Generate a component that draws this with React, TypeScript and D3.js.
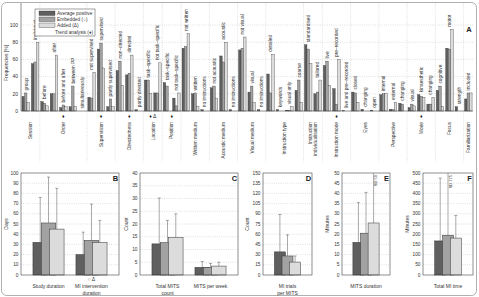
import React from "react";
import * as d3 from "d3";

// Panel A: frequencies per category, grouped by study feature
const groupNames = [
  "Session", "Order", "Supervision", "Directedness", "Location", "Position",
  "Written medium", "Acoustic medium", "Visual medium", "Instruction type",
  "Instruction\nindividualisation", "Instruction mode", "Eyes", "Perspective",
  "Mode", "Focus", "Familiarization",
];
const groupSizes = [2, 5, 3, 3, 2, 2, 3, 3, 3, 4, 2, 3, 3, 3, 3, 3, 1];
const groupMarks = ["", "♦", "♦", "♦", "♦ Δ", "♦", "", "", "", "", "", "♦", "", "", "♦", "", ""];

const categories = [
  "group", "individual",
  "before", "after", "before and after", "between PP", "simultaneously",
  "not supervised", "supervised", "partly supervised",
  "non\u2013directed", "directed", "partly directed",
  "task\u2013specific", "not task\u2013specific",
  "task\u2013specific", "not task\u2013specific",
  "not written", "written", "no instructions",
  "not acoustic", "acoustic", "no instructions",
  "not visual", "visual", "no instructions",
  "detailed", "keywords", "visual only", "coarse",
  "standardised", "tailored",
  "live", "pre\u2013recorded", "live and pre\u2013recorded",
  "closed", "changing", "open",
  "internal", "external", "changing",
  "visual", "kinaesthetic", "changing",
  "cognitive", "motor", "strength",
  "included",
];
const averagePositive = [
  17, 55,
  11, 20, 4, 5, 0,
  16, 72, 5,
  47, 42, 1.5,
  36, 21,
  33, 15,
  73, 20, 1.5,
  27, 64, 1.5,
  71, 22, 1.5,
  43, 1.5, 1, 24,
  77, 20,
  53, 26, 0.5,
  22, 2, 1,
  19, 2, 9,
  4, 19, 8,
  24, 73, 5,
  14,
];
const embedded = [
  21, 57,
  9, 20, 7, 29, 0,
  15, 79, 14,
  58, 44, 0,
  36, 21,
  29, 6,
  75, 21, 0,
  29, 57, 0,
  73, 29, 0,
  21, 0, 1, 36,
  72, 22,
  58, 8, 0,
  21, 0, 0,
  20, 2, 8,
  8, 17, 8,
  29, 72, 0,
  21,
];
const added = [
  10, 80,
  6, 65, 5, 5, 0,
  45, 50, 5,
  30, 65, 0,
  20, 56,
  0, 21,
  90, 5, 0,
  15, 80, 0,
  86, 10, 0,
  66, 0, 5, 10,
  55, 36,
  30, 60, 0,
  10, 0, 0,
  20, 10, 0,
  6, 16, 16,
  5, 95, 0,
  21,
];
const frequencyTicks = [0, 20, 40, 60, 80, 100];

const seriesNames = ["Average positive", "Embedded (\u25cb)", "Added (\u0394)"];
const seriesColors = ["#5f5f5f", "#a2a2a2", "#dcdcdc"];

// Panels B-F: means and standard deviations
const durationLabels = ["Study duration", "MI intervention\nduration"];
const durationMarks = ["", "\u25cb \u0394"];
const durationMeans = [[32, 51, 45], [20, 34, 32]];
const durationSds = [[44, 45, 40], [22, 35.5, 21.5]];

const mitsLabels = ["Total MITS\ncount", "MITS per week"];
const mitsMeans = [[12.2, 12.7, 14.7], [3.0, 3.0, 3.5]];
const mitsSds = [[18, 8.7, 9.3], [2.3, 1.5, 1.5]];

const trialLabels = ["MI trials\nper MITS"];
const trialMeans = [[34, 28, 19]];
const trialSds = [[55, 31, 9]];

const mitsDurationLabels = ["MITS duration"];
const mitsDurationMeans = [[16, 20.5, 25.5]];
const mitsDurationSds = [[19.5, 20, 59]];

const miTimeLabels = ["Total MI time"];
const miTimeMeans = [[167, 195, 181]];
const miTimeSds = [[308, 775, 111]];

const W = 479;
const H = 297;
const FONT = "'Liberation Sans', Arial, Helvetica, sans-serif";
const TEXT = "#333";
const GRID = "#b5b5b5";

const aLeft = 21, aRight = 473, aTop = 3, aBottom = 111;
const pTop = 173, pBottom = 275;

type PanelProps = {
  letter: string; x0: number; x1: number; yMax: number; step: number;
  yLabel: string; yLabelX: number; labels: string[]; marks?: string[];
  means: number[][]; sds: number[][]; barW: number; barStep: number;
};

function StatPanel(p: PanelProps) {
  const y = d3.scaleLinear().domain([0, p.yMax]).range([pBottom, pTop]);
  const x = d3.scalePoint<string>().domain(p.labels).range([p.x0, p.x1])
    .padding(p.labels.length === 1 ? 0.5 : 0.64);
  const ticks = d3.range(0, p.yMax + p.step / 2, p.step);
  return (
    <g>
      {ticks.map((t) => (
        <g key={t}>
          {t > 0 && t < p.yMax && (
            <line x1={p.x0} x2={p.x1} y1={y(t)} y2={y(t)} stroke={GRID}
              strokeWidth={0.5} strokeDasharray="0.8,1.4" />
          )}
          <text x={p.x0 - 2.5} y={y(t)} dy="0.35em" textAnchor="end" fontSize={4.8} fill={TEXT}>{t}</text>
        </g>
      ))}
      <text transform={`translate(${p.yLabelX},${(pTop + pBottom) / 2}) rotate(-90)`}
        textAnchor="middle" fontSize={5} fill={TEXT}>{p.yLabel}</text>
      {p.labels.map((lab, gi) => {
        const c = x(lab) as number;
        return (
          <g key={lab}>
            {p.means[gi].map((m, s) => {
              const bc = c + (s - 1) * p.barStep;
              const top = m + p.sds[gi][s];
              const clipped = top > p.yMax;
              const ey = clipped ? pTop : y(top);
              return (
                <g key={s}>
                  <rect x={bc - p.barW / 2} y={y(m)} width={p.barW} height={pBottom - y(m)}
                    fill={seriesColors[s]} stroke="#333" strokeWidth={0.5} />
                  <line x1={bc} x2={bc} y1={y(m)} y2={ey} stroke="#555" strokeWidth={0.5} />
                  {!clipped && (
                    <line x1={bc - 1.5} x2={bc + 1.5} y1={ey} y2={ey} stroke="#555" strokeWidth={0.5} />
                  )}
                  {clipped && (
                    <text transform={`translate(${bc + 3.8},${pTop + 2}) rotate(-90)`} textAnchor="end"
                      fontSize={4} fill={TEXT}>{`SD ${p.sds[gi][s]}`}</text>
                  )}
                </g>
              );
            })}
            {p.marks && p.marks[gi] && (
              <text x={c} y={281} textAnchor="middle" fontSize={5} fill={TEXT}>{p.marks[gi]}</text>
            )}
            {lab.split("\n").map((line, li) => (
              <text key={li} x={c} y={288 + li * 7} textAnchor="middle" fontSize={5} fill={TEXT}>{line}</text>
            ))}
          </g>
        );
      })}
      <rect x={p.x0} y={pTop} width={p.x1 - p.x0} height={pBottom - pTop} fill="none" stroke="#444" strokeWidth={0.6} />
      <text x={p.x1 - 3.5} y={180.5} textAnchor="middle" fontSize={7.5} fontWeight="bold" fill="#222">{p.letter}</text>
    </g>
  );
}

export default function App() {
  const n = categories.length;
  const x = d3.scaleBand<number>().domain(d3.range(n)).range([aLeft, aRight])
    .paddingInner(0.2).paddingOuter(0.1);
  const inner = d3.scaleBand<number>().domain([0, 1, 2]).range([0, x.bandwidth()]);
  const yA = d3.scaleLinear().domain([0, 100]).range([aBottom, 25]);
  const series = [averagePositive, embedded, added];

  const gap = (x.step() - x.bandwidth()) / 2;
  const boundary = (k: number) => (k <= 0 ? aLeft : k >= n ? aRight : (x(k) as number) - gap);
  const starts = [0, ...Array.from(d3.cumsum(groupSizes))];

  const panels: PanelProps[] = [
    { letter: "B", x0: 21, x1: 119, yMax: 100, step: 10, yLabel: "Days", yLabelX: 8,
      labels: durationLabels, marks: durationMarks, means: durationMeans, sds: durationSds, barW: 14.5, barStep: 8.3 },
    { letter: "C", x0: 140, x1: 238, yMax: 40, step: 5, yLabel: "Count", yLabelX: 128,
      labels: mitsLabels, means: mitsMeans, sds: mitsSds, barW: 14.5, barStep: 8.3 },
    { letter: "D", x0: 263, x1: 312, yMax: 150, step: 15, yLabel: "Count", yLabelX: 249,
      labels: trialLabels, means: trialMeans, sds: trialSds, barW: 11, barStep: 7.6 },
    { letter: "E", x0: 342, x1: 390, yMax: 50, step: 5, yLabel: "Minutes", yLabelX: 329,
      labels: mitsDurationLabels, means: mitsDurationMeans, sds: mitsDurationSds, barW: 11, barStep: 7.6 },
    { letter: "F", x0: 423, x1: 473, yMax: 500, step: 50, yLabel: "Minutes", yLabelX: 409,
      labels: miTimeLabels, means: miTimeMeans, sds: miTimeSds, barW: 11, barStep: 7.8 },
  ];

  return (
    <svg width={W} height={H} viewBox={`0 0 ${W} ${H}`}
      style={{ position: "absolute", left: 0, top: 0, fontFamily: FONT, background: "#fff" }}>
      <rect x={1.5} y={2.5} width={475} height={293} rx={5} fill="#fff" stroke="#9c9c9c" strokeWidth={0.8} />

      {/* panel A grid */}
      {frequencyTicks.map((t) => (
        <g key={t}>
          {t > 0 && (
            <line x1={aLeft} x2={aRight} y1={yA(t)} y2={yA(t)} stroke={GRID} strokeWidth={0.5} strokeDasharray="0.8,1.4" />
          )}
          <text x={aLeft - 3} y={yA(t)} dy="0.35em" textAnchor="end" fontSize={5} fill={TEXT}>{t}</text>
        </g>
      ))}
      {starts.slice(1, -1).map((k) => (
        <line key={k} x1={boundary(k)} x2={boundary(k)} y1={aTop} y2={162} stroke={GRID}
          strokeWidth={0.5} strokeDasharray="0.8,1.4" />
      ))}
      <text transform={`translate(8,${(aTop + aBottom) / 2 + 6}) rotate(-90)`} textAnchor="middle"
        fontSize={5} fill={TEXT}>Frequencies [%]</text>

      {/* panel A bars and category labels */}
      {categories.map((cat, i) => {
        const x0 = x(i) as number;
        const cx = x0 + x.bandwidth() / 2;
        const top = Math.max(averagePositive[i], embedded[i], added[i]);
        return (
          <g key={i}>
            {series.map((vals, s) => vals[i] > 0 && (
              <rect key={s} x={x0 + (inner(s) as number)} y={yA(vals[i])} width={inner.bandwidth()}
                height={aBottom - yA(vals[i])} fill={seriesColors[s]} stroke="#333" strokeWidth={0.35} />
            ))}
            <text transform={`translate(${cx + 1.8},${yA(top) - 2.5}) rotate(-90)`} fontSize={4.8} fill={TEXT}>{cat}</text>
          </g>
        );
      })}

      <line x1={aLeft} x2={aRight} y1={aBottom} y2={aBottom} stroke="#444" strokeWidth={0.6} />
      <line x1={aLeft} x2={aLeft} y1={aTop} y2={aBottom} stroke="#444" strokeWidth={0.6} />

      {/* group labels */}
      {groupNames.map((g, gi) => {
        const c = (boundary(starts[gi]) + boundary(starts[gi + 1])) / 2;
        const lines = g.split("\n");
        return (
          <g key={gi}>
            {groupMarks[gi] && (
              <text x={c} y={117.5} textAnchor="middle" fontSize={5} fill="#222">{groupMarks[gi]}</text>
            )}
            {lines.map((line, li) => (
              <text key={li} transform={`translate(${c + 1.8 + (li - (lines.length - 1) / 2) * 5.5},122) rotate(-90)`}
                textAnchor="end" fontSize={4.8} fill={TEXT}>{line}</text>
            ))}
          </g>
        );
      })}

      {/* legend */}
      <rect x={35} y={9} width={60} height={27} fill="#fff" stroke="#444" strokeWidth={0.5} />
      {seriesNames.map((s, i) => (
        <g key={s}>
          <rect x={39} y={11 + i * 6} width={16} height={4.5} fill={seriesColors[i]} stroke="#333" strokeWidth={0.35} />
          <text x={57} y={13.3 + i * 6} dy="0.35em" fontSize={4.8} fill={TEXT}>{s}</text>
        </g>
      ))}
      <text x={93} y={32} dy="0.35em" textAnchor="end" fontSize={4.8} fill={TEXT}>Trend analysis (♦)</text>
      <text x={469} y={32} textAnchor="middle" fontSize={7.5} fontWeight="bold" fill="#222">A</text>

      {panels.map((p) => <StatPanel key={p.letter} {...p} />)}
    </svg>
  );
}
